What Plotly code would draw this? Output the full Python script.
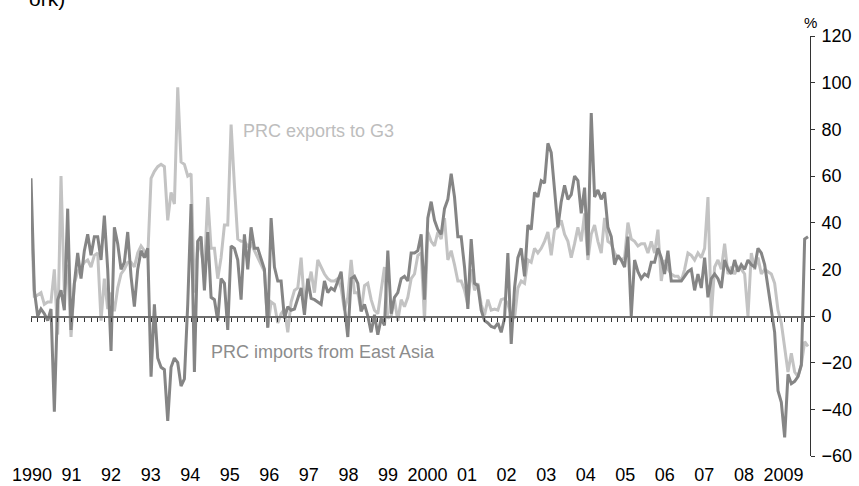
import plotly.graph_objects as go

year_labels = ["1990", "91", "92", "93", "94", "95", "96", "97", "98", "99",
               "2000", "01", "02", "03", "04", "05", "06", "07", "08", "2009"]

# PRC imports from East Asia (% y-o-y), monthly from Jan 1990
imports_east_asia = [
    59, 11, 0, 3, 1, -2, 3, -41, 7, 11, 2.5, 46,
    -6, 14, 27, 16, 28, 35, 26, 34, 34, 24, 43, 20,
    -15, 38, 31, 20, 23, 36, 17, 4, 20, 28, 25, 29,
    -26, 5, -18, -22, -23, -45, -22, -18, -20, -30, -27, 5,
    48, -24, 32, 34, 11, 36, 8, 7, -2, 16, 14, -6,
    30, 29, 24, 7, 35, 20, 38, 29, 29, 24, 20, -5,
    42, 21, 15, 15, -1, 4, 2.5, 3, 8, 12, 0.5, 16,
    7.5, 7, 6, 5, 15, 10, 12, 11, 15, 19, 4, -9,
    16, 17, 14, 2, 5, 0, -7, 0.5, -8, -1, -4, 28,
    1, 8, 10, 16, 17, 15, 27, 27, 28, 35, 7, 42,
    49, 41, 37, 35, 46, 50, 61, 51, 34, 34, 21, 3,
    33, 14, 13, 2.5, -2, -3, -4.5, -5, -3, -7, -1, 27,
    -12, 12, 25, 29, 17, 39, 37, 53, 51, 58, 57, 74,
    70, 55, 38, 49, 56, 50, 52, 60, 58, 44, 55, 26,
    87, 51, 54, 50, 53, 38, 34, 22, 26, 24, 21, 34,
    0, 24, 19, 16, 18, 17, 23, 23, 29, 25, 18, 28,
    15, 15, 15, 15, 17, 19, 20, 11, 18, 12, 25, 8,
    16, 18, 16, 12, 24, 20, 18, 24, 19, 22, 20, 24,
    22, 21, 29, 27, 22, 12, 2.5, -7, -32, -37, -52, -25,
    -29, -28, -26, -21, 33, 34,
]

# PRC exports to G3 (% y-o-y), monthly from Jan 1990
exports_g3 = [
    46, 8, 9, 10, 5, 6, 6, 20, -8, 60, 10, 22,
    -9, 14, 19, 21, 23, 24, 21, 26, 27, -2, 16, 3,
    10, 2, 12, 18, 20, 23, 23, 21, 27, 30, 28, 25,
    59, 62, 64, 65, 64, 41, 53, 48, 98, 66, 65, 60,
    61, 10, 32, 28, 20, 51, 29, 29, 16, 25, 39, 39,
    82, 56, 33, 32, 32, 30, 31, 28, 25, 22, 19, -5,
    6, 5, -3, 1, 3, -7, 6, 11, 12, 25, 5, 12,
    19, 10, 24, 21, 18, 16, 15, 15, 16, 12, 2.5, 8,
    24, 10, 10, 2, 13, 14, 7, 2.5, 1, 11, 21, -1,
    0, 7, -2, 7, 4, 8, 16, 18, 26, 27, -2, 36,
    32, 30, 36, 33, 42, 24, 28, 22, 15, 15, 11, 5,
    20, 11, 14, 5, 0.4, 7, 2.5, 3, 2.5, 7, 7.5, 5,
    0.4, -1, 12, 15, 14, 24, 23, 29, 27, 29, 32, 36,
    26, 37, 38, 41, 35, 32, 25, 31, 38, 32, 44, 24,
    35, 39, 32, 27, 42, 32, 31, 27, 25, 24, 25, 40,
    33, 32, 30, 31, 31, 27, 32, 27, 37, 15, 24, 20,
    18, 17, 17, 15, 20, 27, 26, 24, 27, 25, 29, 51,
    0, 21, 24, 20, 31, 18, 21, 18, 21, 20, 18, 0,
    27, 20, 25, 18, 20, 19, 18, 14, 2.5, -3, -14, -24,
    -16, -24, -26, -21, -11, -13,
]

months = list(range(len(imports_east_asia)))
x_range = [0, len(months) - 0.4]
tick_positions = [0.3 + 11.86 * i for i in range(len(year_labels))]

FONT = "Liberation Sans, Arial, Helvetica, sans-serif"

fig = go.Figure()
fig.add_trace(go.Scatter(
    x=months, y=exports_g3, mode="lines", name="PRC exports to G3",
    line=dict(color="#c3c3c3", width=3), xaxis="x", yaxis="y",
    hoverinfo="skip"))
fig.add_trace(go.Scatter(
    x=months, y=imports_east_asia, mode="lines", name="PRC imports from East Asia",
    line=dict(color="#858585", width=3), xaxis="x2", yaxis="y",
    hoverinfo="skip"))

fig.update_layout(
    width=859, height=486,
    margin=dict(l=31, r=49, t=36, b=30, autoexpand=False),
    paper_bgcolor="white", plot_bgcolor="white",
    showlegend=False,
    font=dict(family=FONT, size=18, color="black"),
    xaxis=dict(
        range=x_range, tickmode="array", tickvals=tick_positions, ticktext=year_labels,
        showgrid=False, zeroline=False, showline=False, ticks="",
        ticklabelstandoff=6, tickfont=dict(size=18, color="black"),
        automargin=False,
    ),
    xaxis2=dict(
        range=x_range, overlaying="x", anchor="free", position=1/3,
        showline=True, linecolor="#6e6e6e", linewidth=1.5,
        ticks="outside", ticklen=4, tickwidth=1, tickcolor="#333333",
        tick0=0, dtick=2, showticklabels=False, showgrid=False, zeroline=False,
        automargin=False,
    ),
    yaxis=dict(
        range=[-60, 120], tick0=0, dtick=20, side="right",
        showline=True, linecolor="#333333", linewidth=1,
        ticks="outside", ticklen=4, tickcolor="#333333",
        showgrid=False, zeroline=False, ticklabelstandoff=3,
        tickfont=dict(size=18, color="black"), automargin=False,
    ),
    annotations=[
        dict(text="PRC exports to G3", x=63.0, y=79.5, xref="x", yref="y",
             xanchor="left", yanchor="middle", showarrow=False,
             font=dict(family=FONT, size=18, color="#bdbdbd")),
        dict(text="PRC imports from East Asia", x=53.5, y=-15.3, xref="x", yref="y",
             xanchor="left", yanchor="middle", showarrow=False,
             font=dict(family=FONT, size=18, color="#8c8c8c")),
        dict(text="%", x=1.0, y=1.031, xref="paper", yref="paper",
             xanchor="center", yanchor="middle", showarrow=False,
             font=dict(family=FONT, size=15, color="black")),
        dict(text="ork)", x=-0.005, y=1.057, xref="paper", yref="paper",
             xanchor="left", yanchor="bottom", showarrow=False,
             font=dict(family=FONT, size=21, color="black")),
    ],
)

fig.write_html("out.html",
               config={"displayModeBar": False, "staticPlot": True},
               post_script="document.body.style.margin='0';document.body.style.overflow='hidden';")
